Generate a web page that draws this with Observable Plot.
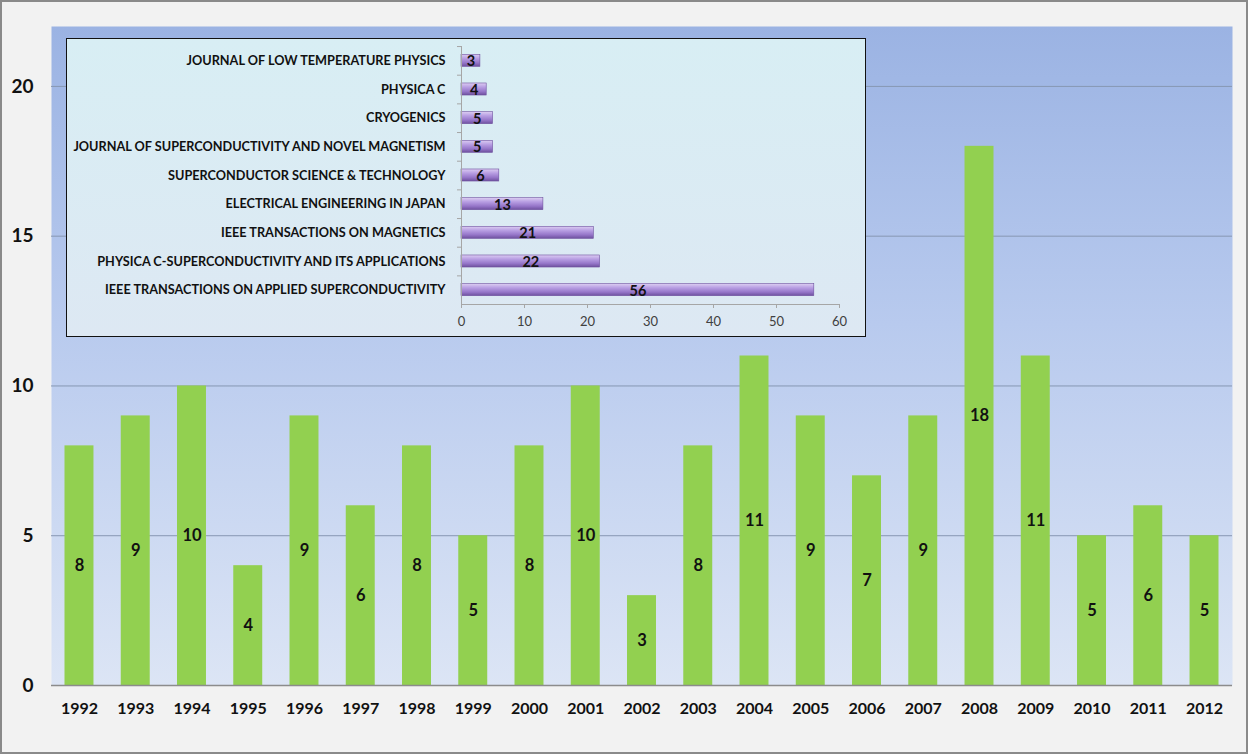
<!DOCTYPE html>
<html><head><meta charset="utf-8">
<script src="https://cdn.jsdelivr.net/npm/d3@7"></script>
<script src="https://cdn.jsdelivr.net/npm/@observablehq/plot@0.6"></script>
<style>
body{margin:0;background:#f2f2f2;}
#wrap{position:relative;width:1248px;height:754px;background:#f2f2f2;overflow:hidden;}
#main{position:absolute;left:0;top:0;}
#border{position:absolute;left:0;top:0;width:1248px;height:754px;box-sizing:border-box;border:2px solid #8a8a8a;pointer-events:none;}
#inset{position:absolute;left:66px;top:38px;width:800px;height:299px;box-sizing:border-box;border:1.5px solid #111;background:linear-gradient(#d8eef4,#dde8f3);}
#inset svg{display:block;}
</style></head><body>
<div id="wrap"><div id="main"></div><div id="inset"></div><div id="border"></div></div>
<script>
const years = [1992,1993,1994,1995,1996,1997,1998,1999,2000,2001,2002,2003,2004,2005,2006,2007,2008,2009,2010,2011,2012];
const counts = [8,9,10,4,9,6,8,5,8,10,3,8,11,9,7,9,18,11,5,6,5];
const yTicks = [0,5,10,15,20];
const journals = [
  "JOURNAL OF LOW TEMPERATURE PHYSICS",
  "PHYSICA C",
  "CRYOGENICS",
  "JOURNAL OF SUPERCONDUCTIVITY AND NOVEL MAGNETISM",
  "SUPERCONDUCTOR SCIENCE & TECHNOLOGY",
  "ELECTRICAL ENGINEERING IN JAPAN",
  "IEEE TRANSACTIONS ON MAGNETICS",
  "PHYSICA C-SUPERCONDUCTIVITY AND ITS APPLICATIONS",
  "IEEE TRANSACTIONS ON APPLIED SUPERCONDUCTIVITY"
];
const papers = [3,4,5,5,6,13,21,22,56];
const xTicks = [0,10,20,30,40,50,60];

const FONT = "Lato, 'Open Sans', sans-serif";

const yearData = years.map((y,i)=>({year:String(y), n:counts[i]}));
const main = Plot.plot({
  width:1248, height:754,
  marginLeft:51, marginRight:16, marginTop:26, marginBottom:69,
  style:{fontFamily:FONT, background:"transparent", color:"#111"},
  x:{domain:yearData.map(d=>d.year), paddingInner:0.485, paddingOuter:0.24, round:false, label:null},
  y:{domain:[0,22], label:null},
  marks:[
    Plot.frame({fill:"url(#bgGrad)", stroke:"none"}),
    Plot.ruleY(yTicks.filter(t=>t>0), {stroke:"#8797b2", strokeWidth:1}),
    Plot.barY(yearData, {x:"year", y:"n", fill:"#92d050"}),
    Plot.ruleY([0], {stroke:"#8c8c8c", strokeWidth:1.5}),
    Plot.text(yearData, {x:"year", y:d=>d.n/2, text:d=>String(d.n), fontSize:16.5, fontWeight:"bold", fill:"#111"}),
    Plot.axisY({ticks:yTicks, tickSize:0, tickPadding:18, fontSize:19, fontWeight:"bold", fill:"#111"}),
    Plot.axisX({tickSize:0, tickPadding:17, fontSize:16, fontWeight:"bold", fill:"#111"})
  ]
});
{
  const defs = d3.select(main).insert("defs", ":first-child");
  const g = defs.append("linearGradient").attr("id","bgGrad").attr("x1",0).attr("y1",0).attr("x2",0).attr("y2",1);
  [["0%","#9bb3e3"],["45%","#b8caee"],["100%","#dce5f5"]].forEach(([o,c])=>g.append("stop").attr("offset",o).attr("stop-color",c));
}
document.getElementById("main").appendChild(main);

const jData = journals.map((j,i)=>({j, n:papers[i]}));
const inset = Plot.plot({
  width:797, height:296,
  marginLeft:394, marginRight:25, marginTop:7, marginBottom:31,
  style:{fontFamily:FONT, background:"transparent", color:"#111"},
  x:{domain:[0,60], label:null},
  y:{domain:journals, paddingInner:0.58, paddingOuter:0.29, round:false, label:null},
  marks:[
    Plot.barX(jData, {y:"j", x:"n", fill:"url(#barGrad)", stroke:"#6f519f", strokeWidth:0.6}),
    Plot.text(jData, {y:"j", x:d=>d.n/2, text:d=>String(d.n), fontSize:14.5, fontWeight:"bold", fill:"#111", dy:1}),
    Plot.ruleX([0], {stroke:"#a6a6a6"}),
    Plot.frame({anchor:"bottom", stroke:"#a6a6a6"}),
    Plot.axisX({ticks:xTicks, tickSize:4, tickPadding:8, fontSize:13, fill:"#404040", stroke:"#a6a6a6"}),
    Plot.axisY({tickSize:0, tickPadding:16, fontSize:12.7, fontWeight:"bold", fill:"#111"}),
    Plot.axisY({tickSize:4, tickFormat:()=>"", dy:-14.3, stroke:"#a6a6a6"})
  ]
});
{
  const defs = d3.select(inset).insert("defs", ":first-child");
  const g = defs.append("linearGradient").attr("id","barGrad").attr("x1",0).attr("y1",0).attr("x2",0).attr("y2",1);
  [["0%","#dccdf2"],["35%","#b79de2"],["70%","#9676c9"],["100%","#6e509e"]].forEach(([o,c])=>g.append("stop").attr("offset",o).attr("stop-color",c));
}
document.getElementById("inset").appendChild(inset);
</script>
</body></html>
